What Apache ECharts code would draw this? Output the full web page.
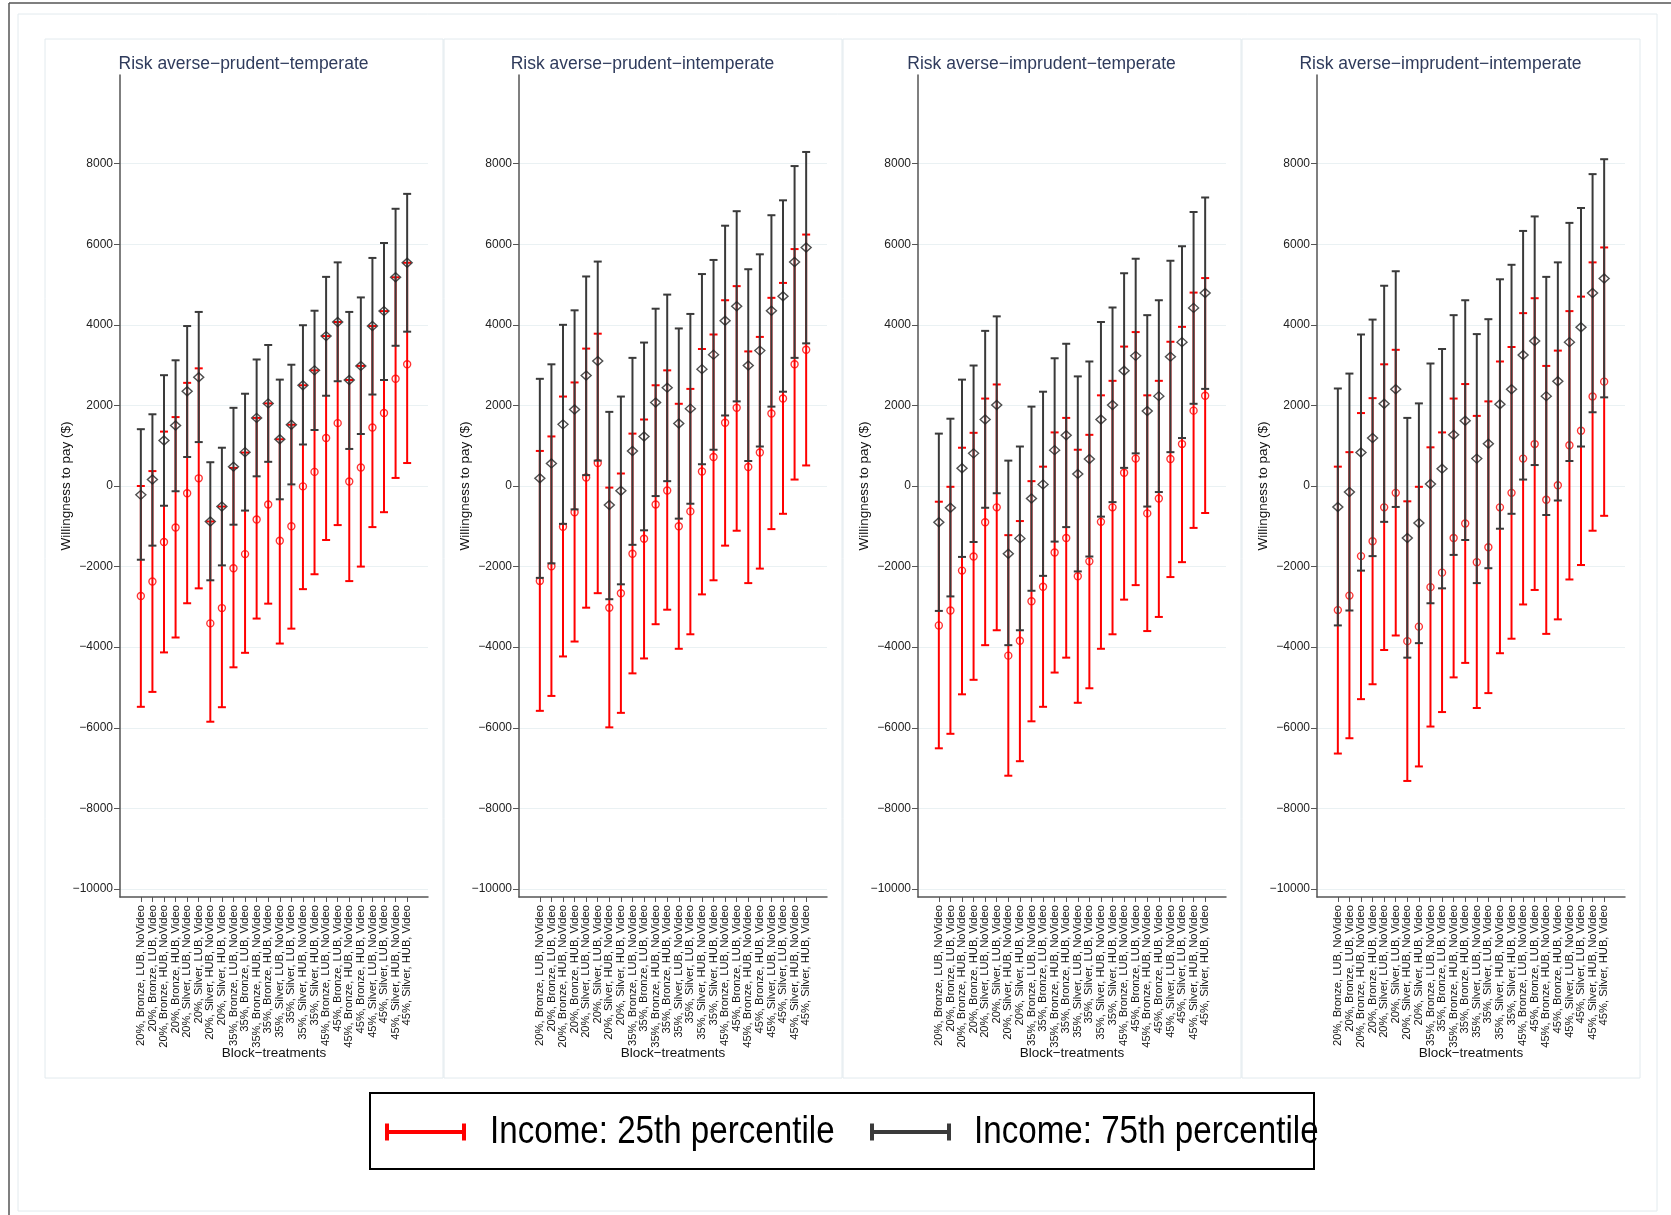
<!DOCTYPE html>
<html>
<head>
<meta charset="utf-8">
<title>Willingness to pay by block-treatment</title>
<script src="https://cdn.jsdelivr.net/npm/echarts@6/dist/echarts.min.js"></script>
<style>
html, body { margin: 0; padding: 0; background: #fff; }
#main { width: 1671px; height: 1215px; }
</style>
</head>
<body>
<div id="main"></div>
<script>
// block-treatments on the x axis
var categories = [
    '20%, Bronze, LUB, NoVideo', '20%, Bronze, LUB, Video', '20%, Bronze, HUB, NoVideo', '20%, Bronze, HUB, Video',
    '20%, Silver, LUB, NoVideo', '20%, Silver, LUB, Video', '20%, Silver, HUB, NoVideo', '20%, Silver, HUB, Video',
    '35%, Bronze, LUB, NoVideo', '35%, Bronze, LUB, Video', '35%, Bronze, HUB, NoVideo', '35%, Bronze, HUB, Video',
    '35%, Silver, LUB, NoVideo', '35%, Silver, LUB, Video', '35%, Silver, HUB, NoVideo', '35%, Silver, HUB, Video',
    '45%, Bronze, LUB, NoVideo', '45%, Bronze, LUB, Video', '45%, Bronze, HUB, NoVideo', '45%, Bronze, HUB, Video',
    '45%, Silver, LUB, NoVideo', '45%, Silver, LUB, Video', '45%, Silver, HUB, NoVideo', '45%, Silver, HUB, Video'
];
var panelTitles = [
    'Risk averse\u2212prudent\u2212temperate',
    'Risk averse\u2212prudent\u2212intemperate',
    'Risk averse\u2212imprudent\u2212temperate',
    'Risk averse\u2212imprudent\u2212intemperate'
];
var yTicks = [-10000, -8000, -6000, -4000, -2000, 0, 2000, 4000, 6000, 8000];
var seriesNames = ['Income: 25th percentile', 'Income: 75th percentile'];

// prudent-temperate
var pt_est25 = [-2730, -2370, -1390, -1030, -180, 190, -3410, -3030, -2040, -1690, -830, -460, -1360, -1000, -10, 350, 1190, 1560, 110, 460, 1450, 1810, 2660, 3020];
var pt_lo25 = [-5480, -5110, -4130, -3760, -2910, -2540, -5850, -5490, -4500, -4140, -3290, -2920, -3910, -3540, -2560, -2190, -1340, -970, -2360, -2000, -1020, -650, 200, 570];
var pt_hi25 = [0, 370, 1350, 1710, 2560, 2920, -880, -510, 450, 830, 1690, 2050, 1160, 1520, 2500, 2870, 3720, 4070, 2630, 2980, 3970, 4340, 5180, 5540];
var pt_est75 = [-220, 160, 1130, 1500, 2350, 2700, -880, -510, 480, 840, 1690, 2050, 1160, 1520, 2500, 2870, 3720, 4070, 2630, 2980, 3970, 4340, 5180, 5540];
var pt_lo75 = [-1830, -1480, -490, -130, 720, 1090, -2340, -1970, -960, -610, 240, 600, -330, 40, 1030, 1390, 2240, 2600, 920, 1290, 2270, 2630, 3480, 3830];
var pt_hi75 = [1410, 1780, 2750, 3120, 3970, 4320, 590, 950, 1940, 2290, 3140, 3500, 2640, 3010, 3990, 4350, 5190, 5550, 4320, 4680, 5660, 6030, 6880, 7250];

// prudent-intemperate
var pi_est25 = [-2360, -1990, -1010, -650, 210, 570, -3020, -2660, -1680, -1310, -460, -110, -1000, -630, 360, 720, 1570, 1940, 470, 830, 1800, 2170, 3020, 3380];
var pi_lo25 = [-5580, -5210, -4230, -3860, -3020, -2660, -5990, -5630, -4650, -4280, -3430, -3070, -4040, -3680, -2690, -2340, -1480, -1110, -2410, -2050, -1070, -690, 160, 510];
var pi_hi25 = [870, 1230, 2220, 2570, 3410, 3780, -40, 310, 1300, 1650, 2500, 2870, 2040, 2410, 3400, 3760, 4610, 4960, 3340, 3700, 4670, 5040, 5880, 6240];
var pi_est75 = [190, 560, 1530, 1900, 2740, 3100, -470, -120, 870, 1230, 2070, 2440, 1550, 1920, 2900, 3260, 4100, 4460, 2990, 3360, 4350, 4710, 5560, 5920];
var pi_lo75 = [-2280, -1920, -940, -580, 270, 630, -2810, -2440, -1460, -1100, -250, 120, -810, -440, 540, 900, 1750, 2100, 620, 980, 1970, 2340, 3180, 3540];
var pi_hi75 = [2660, 3020, 4000, 4360, 5200, 5570, 1840, 2220, 3180, 3560, 4400, 4750, 3910, 4270, 5260, 5610, 6460, 6820, 5380, 5750, 6720, 7090, 7940, 8290];

// imprudent-temperate
var it_est25 = [-3460, -3090, -2100, -1750, -900, -530, -4210, -3840, -2860, -2500, -1650, -1290, -2240, -1870, -890, -530, 330, 680, -680, -310, 670, 1040, 1870, 2240];
var it_lo25 = [-6510, -6150, -5170, -4810, -3950, -3580, -7190, -6830, -5840, -5480, -4630, -4260, -5380, -5020, -4040, -3680, -2820, -2460, -3600, -3250, -2260, -1890, -1040, -670];
var it_hi25 = [-390, -20, 950, 1320, 2170, 2520, -1220, -870, 120, 480, 1330, 1690, 900, 1270, 2250, 2610, 3460, 3820, 2250, 2610, 3580, 3950, 4800, 5160];
var it_est75 = [-900, -540, 440, 810, 1650, 2010, -1680, -1300, -310, 40, 890, 1260, 300, 670, 1650, 2010, 2860, 3230, 1860, 2230, 3210, 3570, 4420, 4790];
var it_lo75 = [-3100, -2740, -1760, -1390, -540, -180, -3950, -3580, -2600, -2230, -1380, -1020, -2120, -1750, -760, -400, 450, 810, -510, -150, 840, 1190, 2040, 2410];
var it_hi75 = [1300, 1670, 2640, 2990, 3850, 4210, 630, 980, 1970, 2340, 3170, 3530, 2720, 3090, 4070, 4430, 5280, 5640, 4240, 4610, 5590, 5950, 6800, 7160];

// imprudent-intemperate
var ii_est25 = [-3080, -2720, -1740, -1370, -530, -170, -3850, -3490, -2510, -2150, -1290, -930, -1890, -1520, -530, -170, 680, 1040, -340, 20, 1010, 1370, 2220, 2590];
var ii_lo25 = [-6640, -6260, -5290, -4920, -4070, -3710, -7320, -6960, -5970, -5610, -4750, -4390, -5510, -5140, -4150, -3790, -2940, -2580, -3670, -3310, -2320, -1960, -1110, -740];
var ii_hi25 = [480, 840, 1810, 2180, 3020, 3380, -380, -20, 960, 1330, 2170, 2530, 1740, 2100, 3090, 3450, 4290, 4660, 2980, 3360, 4340, 4700, 5550, 5920];
var ii_est75 = [-520, -150, 830, 1190, 2040, 2400, -1290, -920, 50, 430, 1270, 1620, 680, 1050, 2030, 2400, 3250, 3600, 2230, 2600, 3570, 3940, 4790, 5150];
var ii_lo75 = [-3460, -3090, -2100, -1740, -890, -520, -4260, -3900, -2910, -2540, -1710, -1340, -2410, -2040, -1060, -690, 160, 520, -720, -360, 620, 980, 1830, 2200];
var ii_hi75 = [2420, 2790, 3760, 4130, 4970, 5330, 1690, 2050, 3040, 3400, 4240, 4610, 3770, 4140, 5130, 5490, 6330, 6690, 5190, 5550, 6530, 6900, 7740, 8110];

var panels = [
    { est25: pt_est25, lo25: pt_lo25, hi25: pt_hi25, est75: pt_est75, lo75: pt_lo75, hi75: pt_hi75 },
    { est25: pi_est25, lo25: pi_lo25, hi25: pi_hi25, est75: pi_est75, lo75: pi_lo75, hi75: pi_hi75 },
    { est25: it_est25, lo25: it_lo25, hi25: it_hi25, est75: it_est75, lo75: it_lo75, hi75: it_hi75 },
    { est25: ii_est25, lo25: ii_lo25, hi25: ii_hi25, est75: ii_est75, lo75: ii_lo75, hi75: ii_hi75 }
];

var RED = '#ff0000';
var DARK = '#3a3a3a';
var FONT = '"Liberation Sans", Arial, Helvetica, sans-serif';
var catIdx = categories.map(function (c, i) { return i; });

// the plot region leaves 1.8 category steps free on both sides, as Stata does
var X_PAD = 1.8;
var PLOT_W = 308;
var STEP = PLOT_W / (categories.length - 1 + 2 * X_PAD);

function minusSign(v) {
    return String(v).replace('-', '\u2212');
}

// vertical bar with a cap at both ends
function capBar(color) {
    return function (params, api) {
        var x = api.value(0);
        var lo = api.coord([x, api.value(1)]);
        var hi = api.coord([x, api.value(2)]);
        var half = 4;
        var style = { stroke: color, lineWidth: 2, fill: null };
        return {
            type: 'group',
            children: [
                { type: 'line', shape: { x1: lo[0], y1: lo[1], x2: hi[0], y2: hi[1] }, style: style },
                { type: 'line', shape: { x1: lo[0] - half, y1: lo[1], x2: lo[0] + half, y2: lo[1] }, style: style },
                { type: 'line', shape: { x1: hi[0] - half, y1: hi[1], x2: hi[0] + half, y2: hi[1] }, style: style }
            ]
        };
    };
}

var grids = [], xAxes = [], yAxes = [], titles = [], series = [];
var graphics = [
    { type: 'line', shape: { x1: 9, y1: 3, x2: 1671, y2: 3 }, style: { stroke: '#555', lineWidth: 1.5 } },
    { type: 'line', shape: { x1: 9, y1: 3, x2: 9, y2: 1215 }, style: { stroke: '#555', lineWidth: 1.5 } },
    { type: 'rect', shape: { x: 18, y: 14, width: 1639, height: 1197 }, style: { stroke: '#e2eaee', fill: null, lineWidth: 1 } }
];

panels.forEach(function (p, i) {
    var left = 120 + i * 399;
    // grid 2i: data, y axis, gridlines; grid 2i+1: category labels only
    grids.push({ left: left, top: 75, width: PLOT_W, height: 822 });
    grids.push({ left: left + (X_PAD - 0.5) * STEP, top: 75, width: categories.length * STEP, height: 822 });

    graphics.push({
        type: 'rect', z: -1,
        shape: { x: 45 + i * 399, y: 39, width: 398, height: 1039 },
        style: { stroke: '#e2eaee', fill: null, lineWidth: 1 }
    });
    titles.push({
        text: panelTitles[i],
        left: 238.5 + i * 399, top: 50, textAlign: 'center',
        textStyle: { fontFamily: FONT, fontSize: 17.5, fontWeight: 'normal', color: '#2f3b5c' }
    });
    xAxes.push({
        type: 'value', gridIndex: 2 * i, min: -X_PAD, max: categories.length - 1 + X_PAD,
        axisLine: { show: true, onZero: false, lineStyle: { color: '#555', width: 1.5 } },
        axisTick: { show: false },
        axisLabel: { show: false },
        splitLine: { show: false },
        name: 'Block\u2212treatments', nameLocation: 'middle', nameGap: 149, nameMoveOverlap: false,
        nameTextStyle: { fontFamily: FONT, fontSize: 13.5, color: '#111' }
    });
    xAxes.push({
        type: 'category', gridIndex: 2 * i + 1, data: categories, boundaryGap: true,
        axisLine: { show: false },
        axisTick: { show: true, alignWithLabel: true, interval: 0, length: 5, lineStyle: { color: '#555' } },
        axisLabel: {
            interval: 0, rotate: 90, margin: 8,
            fontFamily: FONT, fontSize: 11.2, color: '#111'
        },
        splitLine: { show: false }
    });
    yAxes.push({
        type: 'value', gridIndex: 2 * i, min: -10200, max: 10200,
        axisLine: { show: true, onZero: false, lineStyle: { color: '#555', width: 1.5 } },
        axisTick: { show: true, customValues: yTicks, length: 6, lineStyle: { color: '#555' } },
        axisLabel: {
            customValues: yTicks, margin: 7,
            showMinLabel: true, showMaxLabel: true,
            fontFamily: FONT, fontSize: 12, color: '#222',
            formatter: minusSign
        },
        splitLine: { show: true, lineStyle: { color: '#eaf1f3', width: 1 } },
        name: 'Willingness to pay ($)', nameLocation: 'middle', nameGap: 47, nameMoveOverlap: false,
        nameTextStyle: { fontFamily: FONT, fontSize: 13.5, color: '#111' }
    });
    yAxes.push({ type: 'value', gridIndex: 2 * i + 1, show: false });

    var bars25 = catIdx.map(function (k) { return [k, p.lo25[k], p.hi25[k]]; });
    var bars75 = catIdx.map(function (k) { return [k, p.lo75[k], p.hi75[k]]; });
    var pts25 = catIdx.map(function (k) { return [k, p.est25[k]]; });
    var pts75 = catIdx.map(function (k) { return [k, p.est75[k]]; });
    var ax = 2 * i;

    series.push({
        name: seriesNames[0], type: 'custom', xAxisIndex: ax, yAxisIndex: ax, z: 2,
        itemStyle: { color: RED }, renderItem: capBar(RED),
        encode: { x: 0, y: [1, 2] }, data: bars25, silent: true
    });
    series.push({
        name: seriesNames[0], type: 'scatter', xAxisIndex: ax, yAxisIndex: ax, z: 3,
        symbol: 'circle', symbolSize: 7,
        itemStyle: { color: 'rgba(0,0,0,0)', borderColor: RED, borderWidth: 1.4 },
        data: pts25, silent: true
    });
    series.push({
        name: seriesNames[1], type: 'custom', xAxisIndex: ax, yAxisIndex: ax, z: 4,
        itemStyle: { color: DARK }, renderItem: capBar(DARK),
        encode: { x: 0, y: [1, 2] }, data: bars75, silent: true
    });
    series.push({
        name: seriesNames[1], type: 'scatter', xAxisIndex: ax, yAxisIndex: ax, z: 5,
        symbol: 'diamond', symbolSize: [10, 9],
        itemStyle: { color: 'rgba(0,0,0,0)', borderColor: '#222', borderWidth: 1.4 },
        data: pts75, silent: true
    });
});

// legend: frame, cap-bar keys and narrow text (Stata draws it condensed)
graphics.push({
    type: 'rect', shape: { x: 370, y: 1093, width: 944, height: 76 },
    style: { stroke: '#000', fill: null, lineWidth: 2 }
});
function legendKey(x, textX, name, color) {
    return {
        type: 'group', x: x, y: 1132,
        children: [
            { type: 'rect', shape: { x: 0, y: -8.5, width: 4, height: 17 }, style: { fill: color } },
            { type: 'rect', shape: { x: 0, y: -2, width: 81, height: 4 }, style: { fill: color } },
            { type: 'rect', shape: { x: 77, y: -8.5, width: 4, height: 17 }, style: { fill: color } },
            {
                type: 'text', x: textX - x, y: 0, scaleX: 0.85,
                style: { text: name, fontFamily: FONT, fontSize: 39, fill: '#000', verticalAlign: 'middle', align: 'left' }
            }
        ]
    };
}
graphics.push(legendKey(385, 490, seriesNames[0], RED));
graphics.push(legendKey(870, 974, seriesNames[1], DARK));

var chart = echarts.init(document.getElementById('main'), null, { renderer: 'canvas' });
chart.setOption({
    backgroundColor: '#fff',
    animation: false,
    title: titles,
    grid: grids,
    xAxis: xAxes,
    yAxis: yAxes,
    graphic: graphics,
    series: series
});
</script>
</body>
</html>
